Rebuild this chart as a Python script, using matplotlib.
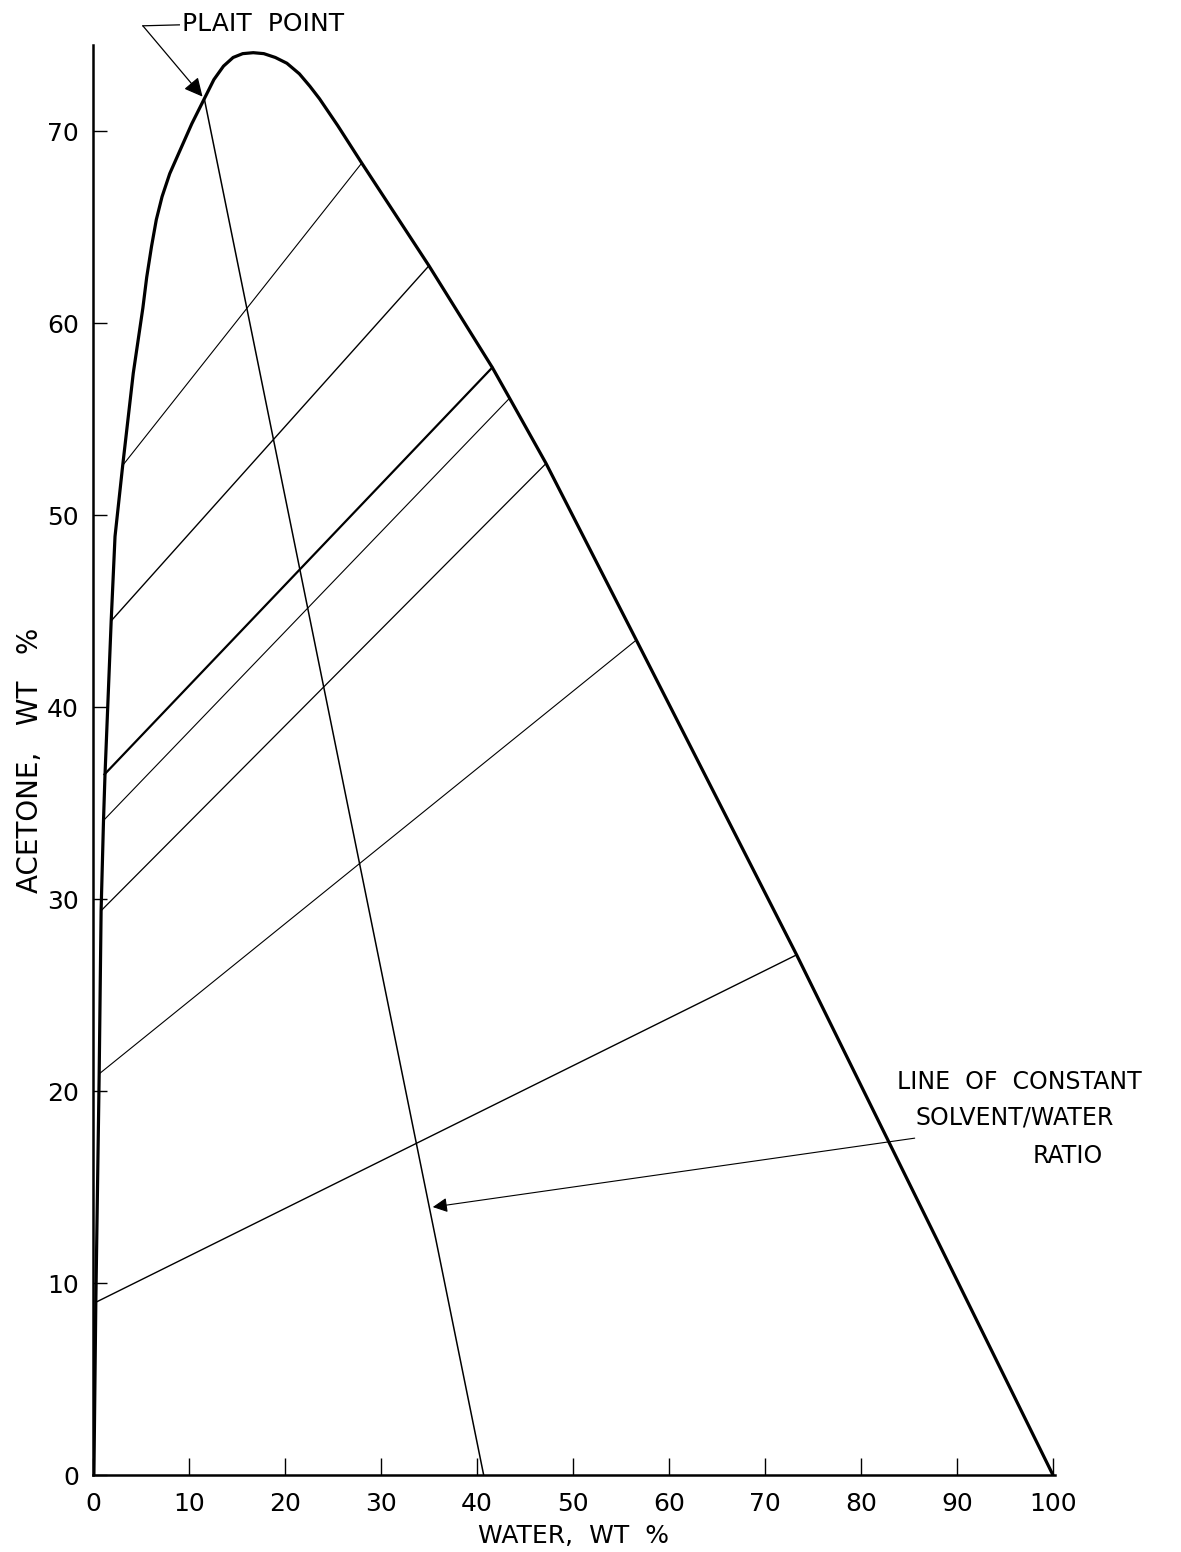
import numpy as np
import matplotlib.pyplot as plt

# binodal curve, water vs acetone (wt %), traced from the solvent-rich side round to pure water
curve_water = [0.1, 0.3, 0.65, 0.85, 1.1, 1.25, 1.9, 2.3, 3.1, 4.2, 5.2, 5.6, 6.1, 6.6, 7.2,
               8.0, 9.06, 10.3, 11.6, 12.6, 13.6, 14.6, 15.6, 16.7, 17.8, 19.0, 20.2,
               21.5, 22.6, 23.6, 25.5, 28.0, 35.0, 41.6, 43.4, 47.2, 56.6, 73.3, 100.0]
curve_acetone = [0.0, 9.0, 20.9, 29.4, 34.1, 36.4, 44.5, 48.9, 52.6, 57.4, 60.8, 62.4, 64.0, 65.4, 66.6,
                 67.8, 69.0, 70.4, 71.7, 72.7, 73.4, 73.85, 74.05, 74.1, 74.05, 73.85, 73.55,
                 73.0, 72.35, 71.7, 70.3, 68.35, 63.0, 57.7, 56.1, 52.7, 43.5, 27.1, 0.0]

# tie lines: solvent-phase end (left) and water-phase end (right)
tie_left_water = [3.1, 1.9, 1.2, 1.1, 0.85, 0.65, 0.3]
tie_left_acetone = [52.6, 44.5, 36.5, 34.1, 29.4, 20.9, 9.0]
tie_right_water = [28.0, 35.0, 41.6, 43.4, 47.2, 56.6, 73.3]
tie_right_acetone = [68.35, 63.0, 57.7, 56.1, 52.7, 43.5, 27.1]
tie_widths = [0.8, 1.0, 1.6, 0.8, 0.9, 0.8, 1.0]

# line of constant solvent/water ratio, plait point down to the water axis
ratio_water = [11.6, 40.7]
ratio_acetone = [71.7, 0.0]
plait_point = (11.6, 71.7)

x_ticks = [0, 10, 20, 30, 40, 50, 60, 70, 80, 90, 100]
y_ticks = [0, 10, 20, 30, 40, 50, 60, 70]

fig = plt.figure(figsize=(11.81, 15.52), dpi=100)
ax = fig.add_axes([0.0787, 0.0496, 0.8145, 0.9214])

ax.plot(curve_water, curve_acetone, color='black', lw=2.3,
        solid_joinstyle='round', solid_capstyle='round')
for lx, ly, rx, ry, w in zip(tie_left_water, tie_left_acetone, tie_right_water,
                             tie_right_acetone, tie_widths):
    ax.plot([lx, rx], [ly, ry], color='black', lw=w)
ax.plot(ratio_water, ratio_acetone, color='black', lw=1.1)

ax.set_xlim(0, 100.2)
ax.set_ylim(0, 74.5)
ax.set_xticks(x_ticks)
ax.set_yticks(y_ticks)

for side in ['top', 'right']:
    ax.spines[side].set_visible(False)
for side in ['left', 'bottom']:
    ax.spines[side].set_linewidth(1.8)

ax.tick_params(axis='both', direction='in', width=1.0, labelsize=18)
ax.tick_params(axis='x', length=12, pad=12)
ax.tick_params(axis='y', length=10, pad=10)

ax.set_xlabel('WATER,  WT  %', fontsize=18, labelpad=6)
ax.set_ylabel('ACETONE,   WT   %', fontsize=20, labelpad=2)

# plait point callout
ax.text(9.3, 75.6, 'PLAIT  POINT', fontsize=18, va='center', ha='left', clip_on=False)
ax.plot([5.2, 9.0], [75.5, 75.55], color='black', lw=0.9, clip_on=False)
ax.annotate('', xy=plait_point, xytext=(5.2, 75.5),
            arrowprops=dict(arrowstyle='-|>', color='black', lw=0.9,
                            mutation_scale=28, shrinkA=0, shrinkB=2),
            annotation_clip=False)

# ratio line callout
ax.text(96.5, 20.5, 'LINE  OF  CONSTANT', fontsize=17, ha='center', va='center')
ax.text(96.0, 18.6, 'SOLVENT/WATER', fontsize=17, ha='center', va='center')
ax.text(101.5, 16.6, 'RATIO', fontsize=17, ha='center', va='center', clip_on=False)
ax.annotate('', xy=(35.4, 13.96), xytext=(85.6, 17.55),
            arrowprops=dict(arrowstyle='-|>', color='black', lw=0.8,
                            mutation_scale=22, shrinkA=0, shrinkB=0))

fig.savefig('out.png', dpi=100)
